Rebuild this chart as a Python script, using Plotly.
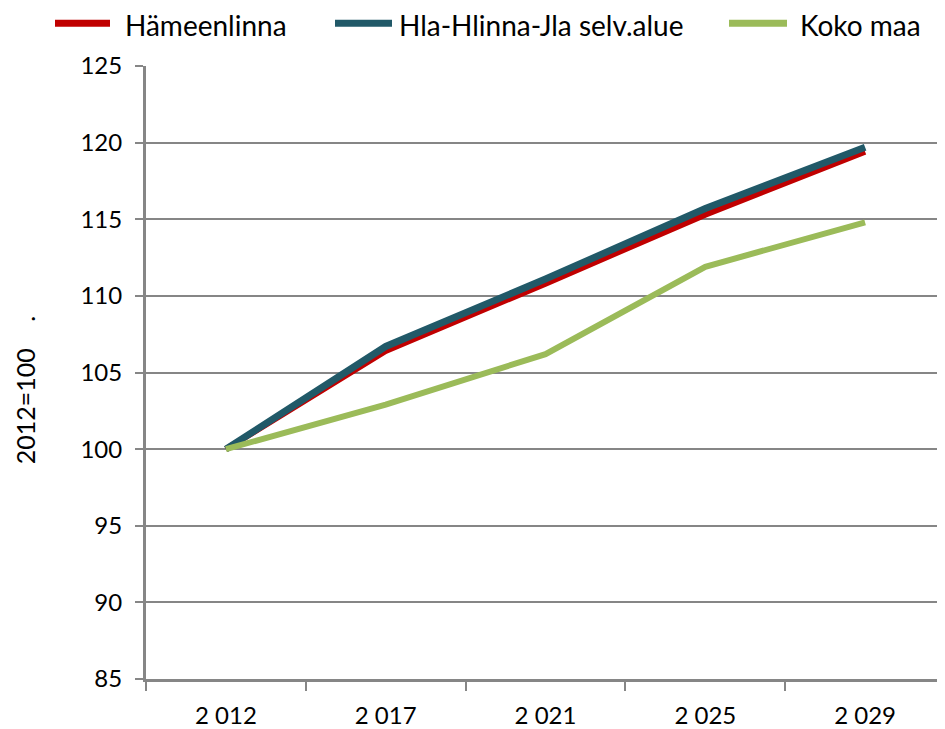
import plotly.graph_objects as go

categories = ["2 012", "2 017", "2 021", "2 025", "2 029"]
hameenlinna = [100.0, 106.4, 110.8, 115.3, 119.4]
hla_alue = [100.0, 106.7, 111.1, 115.7, 119.7]
koko_maa = [100.0, 102.9, 106.2, 111.9, 114.8]

series_names = ["Hämeenlinna", "Hla-Hlinna-Jla selv.alue", "Koko maa"]
series_colors = ["#C00000", "#215968", "#9BBB59"]
y_ticks = [85, 90, 95, 100, 105, 110, 115, 120, 125]

FONT = "Lato, Carlito, Liberation Sans, sans-serif"

# page body has an 8px default margin -> figure drawn at (8, 8)
OFF = 8
W, H = 945 - OFF, 729 - OFF
L, T, B, R = 146 - OFF, 66 - OFF, 47, 0


def px_to_paper(px, py):
    return (px - OFF - L) / (W - L - R), 1 - (py - OFF - T) / (H - T - B)


fig = go.Figure()
for name, vals, col, w in zip(series_names, [hameenlinna, hla_alue, koko_maa], series_colors, [6, 7, 6]):
    fig.add_trace(go.Scatter(
        x=categories, y=vals, name=name, mode="lines",
        line=dict(color=col, width=w), showlegend=False,
    ))

fig.update_layout(
    width=W, height=H,
    margin=dict(l=L, r=R, t=T, b=B),
    paper_bgcolor="white", plot_bgcolor="white",
    font=dict(family=FONT, size=24, color="black"),
    showlegend=False,
    xaxis=dict(
        type="category", range=[-0.5, 4.5],
        showline=True, linecolor="#868686", linewidth=3,
        ticks="outside", tickson="boundaries", ticklen=9, tickcolor="#868686", tickwidth=2,
        showgrid=False, tickfont=dict(family=FONT, size=24), ticklabelstandoff=13,
    ),
    yaxis=dict(
        range=[85, 125], tickvals=y_ticks, ticktext=[str(v) for v in y_ticks],
        showline=True, linecolor="#868686", linewidth=3,
        ticks="outside", ticklen=8, tickcolor="#868686", tickwidth=2,
        showgrid=True, gridcolor="#868686", gridwidth=2,
        tickfont=dict(family=FONT, size=24), zeroline=False, ticklabelstandoff=8,
    ),
)

# manual legend (long line keys like the original)
LEG_Y = 25
legend_items = [(55, 110, 123), (335, 392, 397), (729, 787, 798)]
for (x0, x1, xt), name, col in zip(legend_items, series_names, series_colors):
    px0, py = px_to_paper(x0, LEG_Y - 2)
    px1, _ = px_to_paper(x1, LEG_Y - 2)
    pxt, pyt = px_to_paper(xt, LEG_Y)
    fig.add_shape(type="line", xref="paper", yref="paper", x0=px0, x1=px1, y0=py, y1=py,
                  line=dict(color=col, width=7))
    fig.add_annotation(text=name, x=pxt, y=pyt, xref="paper", yref="paper",
                       xanchor="left", yanchor="middle", showarrow=False,
                       font=dict(family=FONT, size=28, color="black"))

ax, ay = px_to_paper(25, 408)
fig.add_annotation(text="2012=100", textangle=-90, x=ax, y=ay, xref="paper", yref="paper",
                   xanchor="center", yanchor="middle", showarrow=False,
                   font=dict(family=FONT, size=25))
dx, dy = px_to_paper(25, 320)
fig.add_annotation(text=".", textangle=-90, x=dx, y=dy, xref="paper", yref="paper",
                   xanchor="center", yanchor="middle", showarrow=False,
                   font=dict(family=FONT, size=25))

fig.write_html("out.html")
